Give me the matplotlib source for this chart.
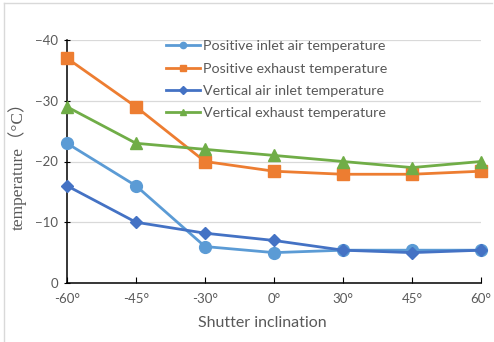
import matplotlib.pyplot as plt
from matplotlib.lines import Line2D

# Shutter angles and measured temperatures (°C, below zero)
angles = ['-60°', '-45°', '-30°', '0°', '30°', '45°', '60°']
pos_inlet = [-23, -16, -6, -5, -5.4, -5.4, -5.4]
pos_exhaust = [-37, -29, -20, -18.4, -17.9, -17.9, -18.4]
vert_inlet = [-16, -10, -8.2, -7, -5.4, -5, -5.4]
vert_exhaust = [-29, -23, -22, -21, -20, -19, -20]

series = [
    ('Positive inlet air temperature', pos_inlet, '#5B9BD5', 'o', 8.5),
    ('Positive exhaust temperature', pos_exhaust, '#ED7D31', 's', 8),
    ('Vertical air inlet temperature', vert_inlet, '#4472C4', 'D', 6.5),
    ('Vertical exhaust temperature', vert_exhaust, '#70AD47', '^', 8),
]

gray = '#595959'
fig = plt.figure(figsize=(4.94, 3.42), dpi=100)
ax = fig.add_axes([67/494, 59/342, 414/494, 243/342])

x = list(range(len(angles)))
for name, vals, col, mk, ms in series:
    ax.plot(x, vals, color=col, lw=2, marker=mk, markersize=ms,
            label=name, clip_on=False, zorder=3)

ax.set_xlim(0, len(angles) - 1)
ax.set_ylim(0, -40)
ax.set_yticks([0, -10, -20, -30, -40])
ax.set_xticks(x)
ax.set_xticklabels(angles)

ax.grid(axis='y', color='#D9D9D9', lw=0.9)
ax.set_axisbelow(True)
for s in ['top', 'right']:
    ax.spines[s].set_visible(False)
for s in ['left', 'bottom']:
    ax.spines[s].set_color('black')
    ax.spines[s].set_linewidth(1.1)

ax.tick_params(axis='x', direction='in', length=4, color='black', pad=7,
               labelsize=9.5, labelcolor=gray)
ax.tick_params(axis='y', direction='inout', length=5, color='black', pad=4,
               labelsize=9.5, labelcolor=gray)
for lab in ax.get_xticklabels() + ax.get_yticklabels():
    lab.set_family('Lato')

ax.set_xlabel('Shutter inclination', fontsize=11.5, color=gray,
              family='Lato', labelpad=3)
ax.xaxis.set_label_coords(0.471, -0.135)
ax.set_ylabel('temperature（°C）', fontsize=12.5, color=gray,
              family=['Liberation Serif', 'Noto Sans CJK SC'], labelpad=6)

handles = [Line2D([], [], color=c, lw=2, marker=m, markersize=4.5)
           for _, _, c, m, _ in series]
leg = ax.legend(handles, [s[0] for s in series], loc='upper left',
                bbox_to_anchor=(0.225, 1.022), frameon=False,
                prop={'family': 'Lato', 'size': 10.3}, handlelength=2.4,
                handletextpad=0.2, labelspacing=0.72, borderaxespad=0)
for t in leg.get_texts():
    t.set_color(gray)

# light outer frame along the left and top edges
fig.add_artist(Line2D([4/494, 4/494], [0, 339/342], color='#D9D9D9', lw=1))
fig.add_artist(Line2D([4/494, 492/494], [339/342, 339/342], color='#D9D9D9', lw=1))

fig.savefig('out.png', dpi=100)
